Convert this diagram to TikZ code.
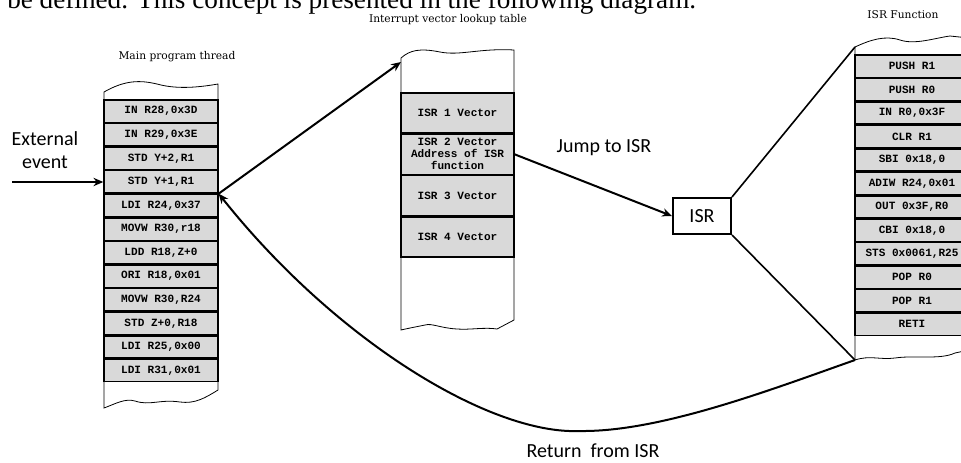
\documentclass[tikz,border=0pt]{standalone}
\usepackage{fontspec}
\setmainfont{Liberation Serif}
\newfontfamily\codefont{Liberation Mono}
\newfontfamily\calfont{Carlito}
\newfontfamily\capfont{DejaVu Serif}
\usetikzlibrary{positioning, calc, arrows.meta}
\tikzset{
  > = {Stealth[length = 2.6mm, width = 2.2mm]},
  instr/.style = {draw, line width = 1pt, fill = black!15, inner sep = 0pt,
    font = \codefont\bfseries\fontsize{8.3}{9}\selectfont, align = center,
    minimum width = 85.5pt, minimum height = 16.69pt},
  isrinstr/.style = {instr, minimum height = 16.6pt},
  vector/.style = {instr, minimum width = 84.75pt, minimum height = 30pt},
  torn/.style = {draw, fill = white, line width = 0.6pt},
  caption/.style = {font = \capfont\fontsize{8}{9}\selectfont},
  callout/.style = {font = \calfont\fontsize{15}{17}\selectfont, align = center},
  flow/.style = {->, line width = 1.5pt},
  fan/.style = {line width = 1.2pt}
}

\begin{document}
\begin{tikzpicture}[x = 0.75pt, y = -0.75pt]
\clip (0,0) rectangle (961,462);

%% Running text of the page
\node [anchor = base west, inner sep = 0pt, font = \fontsize{20.4}{22}\selectfont]
  (intro) at (7,8) {be defined. This concept is presented in the following diagram.};

%% Torn columns
\draw [torn] (104,92) .. controls (125,80) and (140,80) .. (157,84)
  .. controls (175,89) and (195,88) .. (218,84) -- (218,390)
  .. controls (205,398) and (195,404) .. (180,402)
  .. controls (160,399) and (150,406) .. (135,401)
  .. controls (125,398) and (115,404) .. (104,408) -- cycle;
\draw [torn] (401,58) .. controls (410,50) and (420,48) .. (440,52)
  .. controls (460,56) and (480,48) .. (514,50) -- (514,320) -- (497,329)
  .. controls (485,327) and (470,330) .. (457,329)
  .. controls (440,328) and (432,323) .. (425,325)
  .. controls (415,327) and (405,329) .. (401,330) -- cycle;
\draw [torn] (855,47) .. controls (870,40) and (885,35) .. (900,40)
  .. controls (915,45) and (935,38) .. (950,36) -- (969,38) -- (969,350)
  -- (955,353) .. controls (940,360) and (915,355) .. (895,358)
  .. controls (880,360) and (870,355) .. (855,360) -- cycle;

%% Captions
\node [caption] (mcap) at (177,57) {Main program thread};
\node [caption] (vcap) at (448,20) {Interrupt vector lookup table};
\node [caption] (fcap) at (903,15) {ISR Function};

%% Main program thread
\node [instr] (m1) at (161,111.1) {IN R28,0x3D};
\node [instr] (m2) [below = 0pt of m1] {IN R29,0x3E};
\node [instr] (m3) [below = 0pt of m2] {STD Y+2,R1};
\node [instr] (m4) [below = 0pt of m3] {STD Y+1,R1};
\node [instr] (m5) [below = 0pt of m4] {LDI R24,0x37};
\node [instr] (m6) [below = 0pt of m5] {MOVW R30,r18};
\node [instr] (m7) [below = 0pt of m6] {LDD R18,Z+0};
\node [instr] (m8) [below = 0pt of m7] {ORI R18,0x01};
\node [instr] (m9) [below = 0pt of m8] {MOVW R30,R24};
\node [instr] (m10) [below = 0pt of m9] {STD Z+0,R18};
\node [instr] (m11) [below = 0pt of m10] {LDI R25,0x00};
\node [instr] (m12) [below = 0pt of m11] {LDI R31,0x01};

%% Interrupt vector lookup table
\node [vector] (v1) at (457.5,113) {ISR 1 Vector};
\node [vector] (v2) [below = 0pt of v1] {ISR 2 Vector\\Address of ISR\\function};
\node [vector] (v3) [below = 0pt of v2] {ISR 3 Vector};
\node [vector] (v4) [below = 0pt of v3] {ISR 4 Vector};

%% ISR function
\node [isrinstr] (f1) at (912,66.1) {PUSH R1};
\node [isrinstr] (f2) [below = 0pt of f1] {PUSH R0};
\node [isrinstr] (f3) [below = 0pt of f2] {IN R0,0x3F};
\node [isrinstr] (f4) [below = 0pt of f3] {CLR R1};
\node [isrinstr] (f5) [below = 0pt of f4] {SBI 0x18,0};
\node [isrinstr] (f6) [below = 0pt of f5] {ADIW R24,0x01};
\node [isrinstr] (f7) [below = 0pt of f6] {OUT 0x3F,R0};
\node [isrinstr] (f8) [below = 0pt of f7] {CBI 0x18,0};
\node [isrinstr] (f9) [below = 0pt of f8] {STS 0x0061,R25};
\node [isrinstr] (f10) [below = 0pt of f9] {POP R0};
\node [isrinstr] (f11) [below = 0pt of f10] {POP R1};
\node [isrinstr] (f12) [below = 0pt of f11] {RETI};

%% ISR box
\node [draw, line width = 1.5pt, minimum width = 43.5pt, minimum height = 27pt,
  inner sep = 0pt, font = \calfont\fontsize{15}{17}\selectfont] (isr) at (702,216) {ISR};

%% Labels
\node [callout] (event) at (45,150) {External\\event};
\node [callout] (jump) at (604,148) {Jump to ISR};
\node [callout] (back) at (593,451) {Return\ \ from ISR};

%% Connectors
\coordinate (evt) at (12,182);
\coordinate (vin) at (401,62);
\coordinate (ftop) at (855,47);
\coordinate (fbot) at (855,360);
\draw [flow] (evt) -- (evt -| m4.west);
\draw [flow] (m4.south east) -- (vin);
\draw [flow] (v2.east) -- (isr.west);
\draw [fan] (isr.north east) -- (ftop);
\draw [fan] (isr.south east) -- (fbot);
\draw [flow] (fbot) .. controls (770,390) and (660,432) .. (580,431)
  .. controls (490,435) and (335,340) .. (m4.south east);

\end{tikzpicture}
\end{document}
